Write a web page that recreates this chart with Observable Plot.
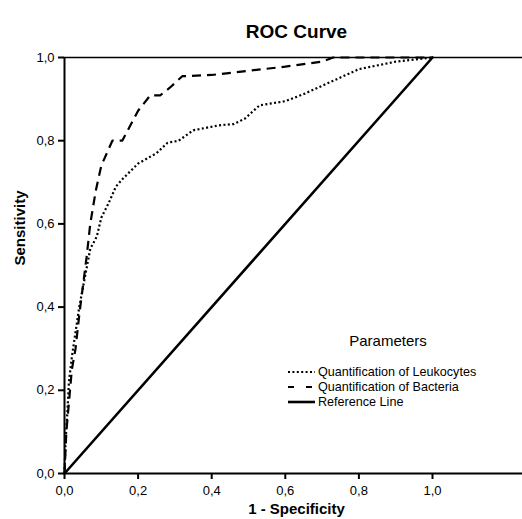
<!DOCTYPE html>
<html>
<head>
<meta charset="utf-8">
<script src="https://cdn.jsdelivr.net/npm/d3@7"></script>
<script src="https://cdn.jsdelivr.net/npm/@observablehq/plot@0.6"></script>
<style>
  html, body { margin: 0; padding: 0; background: #fff; }
  #wrap { position: relative; width: 522px; height: 519px; overflow: hidden; font-family: "Liberation Sans", Arial, sans-serif; }
  #legend { position: absolute; left: 288px; top: 332px; color: #000; }
  #legend .ttl { font-size: 15px; text-align: center; width: 200px; margin-bottom: 15px; }
  #legend .row { display: flex; align-items: center; height: 15px; font-size: 12.6px; white-space: nowrap; }
  #legend svg { margin-right: 3px; }
</style>
</head>
<body>
<div id="wrap"><div id="legend"></div></div>
<script>
// ---- data ----
const tickValues = [0, 0.2, 0.4, 0.6, 0.8, 1.0];

const leukoFPR = [0, 0.003, 0.008, 0.012, 0.02, 0.03, 0.04, 0.055, 0.07, 0.088, 0.1, 0.12, 0.14, 0.16, 0.2, 0.25, 0.28, 0.31, 0.35, 0.42, 0.46, 0.49, 0.53, 0.6, 0.65, 0.72, 0.8, 0.9, 1.0];
const leukoTPR = [0, 0.08, 0.15, 0.22, 0.28, 0.34, 0.4, 0.47, 0.54, 0.57, 0.615, 0.65, 0.69, 0.71, 0.745, 0.77, 0.795, 0.80, 0.825, 0.837, 0.84, 0.853, 0.885, 0.895, 0.912, 0.94, 0.972, 0.99, 1.0];

const bactFPR = [0, 0.005, 0.01, 0.02, 0.03, 0.04, 0.05, 0.06, 0.07, 0.085, 0.1, 0.13, 0.157, 0.2, 0.233, 0.26, 0.287, 0.32, 0.4, 0.5, 0.6, 0.7, 0.73, 1.0];
const bactTPR = [0, 0.1, 0.15, 0.25, 0.3, 0.38, 0.45, 0.52, 0.6, 0.68, 0.74, 0.8, 0.8, 0.872, 0.909, 0.909, 0.928, 0.955, 0.958, 0.968, 0.978, 0.99, 1.0, 1.0];

const refFPR = [0, 1];
const refTPR = [0, 1];

const seriesNames = ["Quantification of Leukocytes", "Quantification of Bacteria", "Reference Line"];

// ---- build ----
const toPts = (xs, ys) => xs.map((x, i) => ({x, y: ys[i]}));
const leuko = toPts(leukoFPR, leukoTPR);
const bact = toPts(bactFPR, bactTPR);
const ref = toPts(refFPR, refTPR);
const fmt = d => d.toFixed(1).replace(".", ",");

const styles = [
  {strokeWidth: 2.2, strokeDasharray: "2,2.4"},
  {strokeWidth: 2.2, strokeDasharray: "9,6"},
  {strokeWidth: 2.6, strokeDasharray: null}
];

const chart = Plot.plot({
  width: 522,
  height: 519,
  marginLeft: 64,
  marginRight: 0,
  marginTop: 57,
  marginBottom: 46,
  style: {fontFamily: "'Liberation Sans', Arial, sans-serif", color: "#000", background: "#fff"},
  x: {domain: [0, 458 / 368]},
  y: {domain: [0, 1]},
  marks: [
    Plot.axisX({ticks: tickValues, tickFormat: fmt, tickSize: 6, tickPadding: 6, strokeWidth: 2, fontSize: 13, label: null}),
    Plot.axisY({ticks: tickValues, tickFormat: fmt, tickSize: 6, tickPadding: 4, strokeWidth: 2, fontSize: 13, label: null}),
    Plot.ruleY([0], {strokeWidth: 2}),
    Plot.ruleY([1], {strokeWidth: 1.6}),
    Plot.ruleX([0], {strokeWidth: 2}),
    Plot.line(ref, {x: "x", y: "y", stroke: "#000", strokeWidth: styles[2].strokeWidth}),
    Plot.line(leuko, {x: "x", y: "y", stroke: "#000", strokeWidth: styles[0].strokeWidth, strokeDasharray: styles[0].strokeDasharray, strokeLinecap: "butt", strokeLinejoin: "miter"}),
    Plot.line(bact, {x: "x", y: "y", stroke: "#000", strokeWidth: styles[1].strokeWidth, strokeDasharray: styles[1].strokeDasharray, strokeLinecap: "butt", strokeLinejoin: "miter"}),
    Plot.text(["ROC Curve"], {text: d => d, frameAnchor: "top", dx: 3, dy: -33, fontSize: 19, fontWeight: "bold"}),
    Plot.text(["1 - Specificity"], {text: d => d, frameAnchor: "bottom", dx: 3, dy: 40, fontSize: 15, fontWeight: "bold"}),
    Plot.text(["Sensitivity"], {text: d => d, frameAnchor: "left", dx: -44, rotate: -90, fontSize: 15, fontWeight: "bold"})
  ]
});
const wrap = document.getElementById("wrap");
wrap.insertBefore(chart, wrap.firstChild);

// ---- legend ----
const legend = document.getElementById("legend");
legend.innerHTML = `<div class="ttl">Parameters</div>` + seriesNames.map((name, i) => {
  const s = styles[i];
  const dash = s.strokeDasharray ? `stroke-dasharray="${i === 1 ? "6,12" : s.strokeDasharray}"` : "";
  return `<div class="row"><svg width="27" height="8"><line x1="0" x2="27" y1="4" y2="4" stroke="#000" stroke-width="${s.strokeWidth}" ${dash}/></svg>${name}</div>`;
}).join("");
</script>
</body>
</html>
